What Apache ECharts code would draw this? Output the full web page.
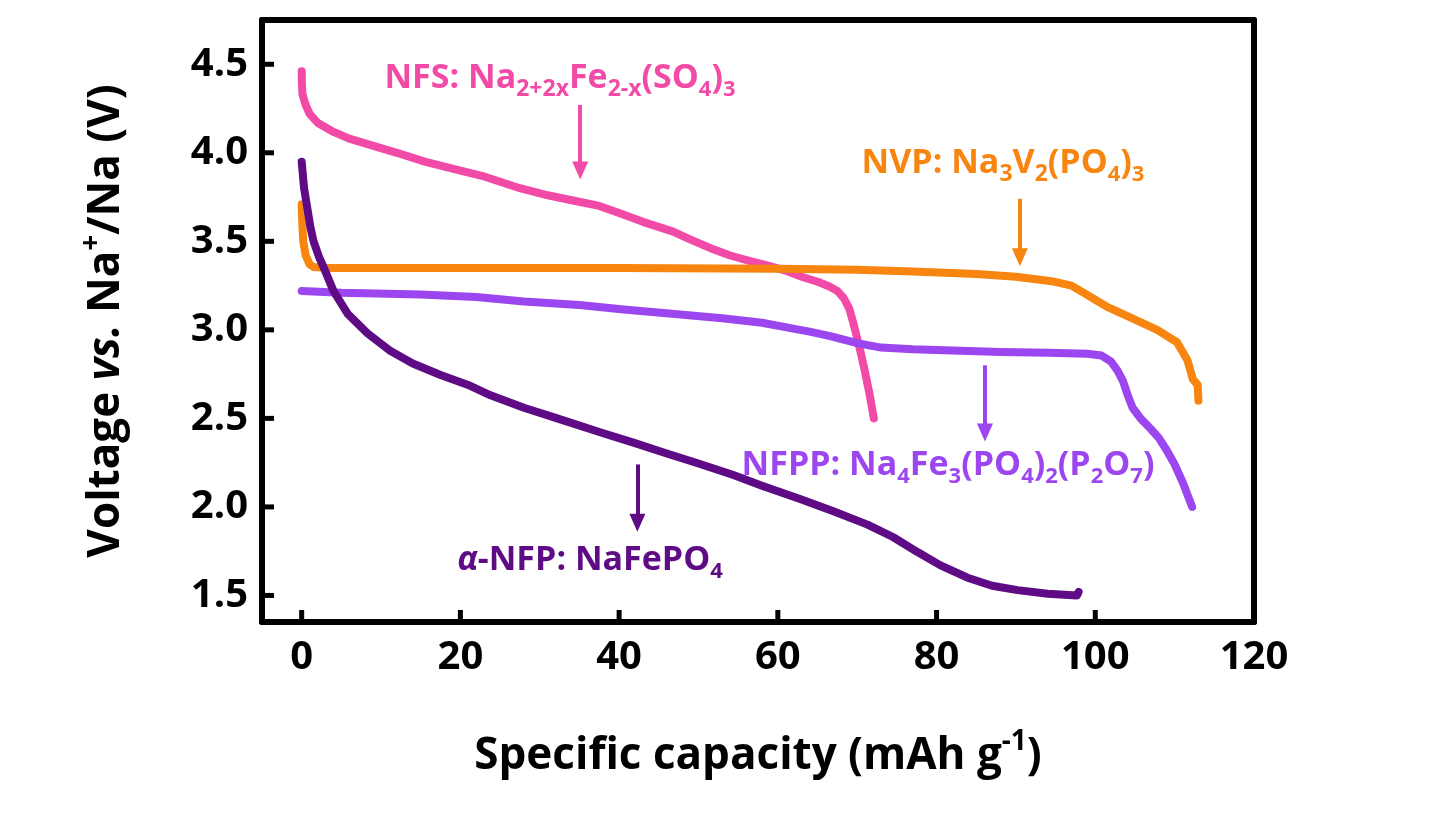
<!DOCTYPE html>
<html>
<head>
<meta charset="utf-8">
<script src="https://cdn.jsdelivr.net/npm/echarts@6/dist/echarts.min.js"></script>
<style>
  html, body { margin: 0; padding: 0; background: #fff; }
  #chart { width: 1456px; height: 840px; }
</style>
</head>
<body>
<div id="chart"></div>
<script>
// capacity (mAh/g), voltage (V) pairs
var nfsData = [[0,4.46],[0.02,4.40],[0.1,4.33],[0.5,4.27],[1.0,4.22],[2,4.17],[3.9,4.12],[6,4.08],[8.2,4.05],[12,4.0],[15.5,3.95],[19,3.91],[22.7,3.87],[27.5,3.80],[31,3.76],[34.8,3.725],[37.5,3.70],[40,3.66],[43,3.61],[46.8,3.555],[49,3.51],[51.6,3.46],[54,3.42],[56.4,3.39],[59,3.36],[61.3,3.33],[63,3.30],[65.1,3.27],[66.5,3.245],[67.5,3.22],[68.3,3.18],[69.0,3.12],[69.5,3.04],[69.9,2.97],[70.4,2.88],[70.9,2.78],[71.5,2.65],[72.1,2.50]];
var nvpData = [[0,3.71],[0.05,3.63],[0.2,3.50],[0.5,3.42],[1.0,3.37],[1.5,3.355],[3,3.35],[20,3.35],[40,3.35],[60,3.345],[70,3.34],[77,3.33],[85,3.315],[90,3.30],[94.5,3.275],[97,3.25],[98.5,3.21],[100,3.17],[101.5,3.13],[104.4,3.07],[107.8,3.0],[110.3,2.93],[111.6,2.83],[112.3,2.72],[112.9,2.69],[113,2.60]];
var nfppData = [[0,3.22],[5,3.21],[15,3.20],[22,3.185],[28,3.16],[35,3.14],[40.6,3.115],[47,3.09],[53,3.065],[58,3.04],[61.6,3.01],[64,2.99],[66.6,2.965],[70,2.925],[73,2.90],[77,2.89],[81,2.885],[88,2.875],[94,2.87],[99,2.865],[100.8,2.855],[102,2.82],[102.8,2.77],[103.5,2.71],[104.1,2.63],[104.7,2.56],[105.7,2.50],[107,2.44],[108,2.39],[109,2.32],[110,2.24],[111.1,2.13],[112.2,2.0]];
var nfpData = [[0,3.95],[0.1,3.90],[0.3,3.80],[0.7,3.69],[1.1,3.58],[1.5,3.50],[2.2,3.41],[2.8,3.35],[4,3.22],[5.8,3.09],[8.3,2.98],[11.2,2.88],[14,2.81],[17.5,2.745],[20.9,2.69],[23.8,2.63],[28,2.56],[32.2,2.50],[37.7,2.42],[42,2.36],[46.1,2.30],[50,2.245],[54.4,2.18],[58,2.12],[62.8,2.045],[67,1.975],[71.3,1.90],[74.5,1.83],[77.6,1.745],[80.5,1.67],[83.9,1.60],[87,1.555],[90.2,1.53],[94,1.51],[97.7,1.50],[97.9,1.52]];

var xTicks = [0, 20, 40, 60, 80, 100, 120];
var yTicks = [1.5, 2.0, 2.5, 3.0, 3.5, 4.0, 4.5];

// arrows: [x, yStart, yEnd]
var nfsArrow = [35.1, 4.27, 3.90];
var nvpArrow = [90.5, 3.74, 3.41];
var nfppArrow = [86.1, 2.80, 2.42];
var nfpArrow = [42.3, 2.24, 1.91];

var X_MIN = -5, X_MAX = 120, Y_MIN = 1.35, Y_MAX = 4.75;

var PINK = '#f24ba7', ORANGE = '#f7850f', PURPLE = '#9c46f0', DARK = '#5f0b86';
var FONT = 'Open Sans';

function arrow(a, color) {
  return {
    silent: true,
    symbol: ['none', 'triangle'],
    symbolSize: [16, 18],
    label: { show: false },
    itemStyle: { color: color },
    lineStyle: { type: 'solid', width: 4, color: color },
    data: [[{ coord: [a[0], a[1]] }, { coord: [a[0], a[2]] }]]
  };
}

function curve(name, data, color, arr) {
  return {
    name: name,
    type: 'line',
    data: data,
    showSymbol: false,
    smooth: false,
    color: color,
    lineStyle: { width: 8, color: color, cap: 'round', join: 'round' },
    markLine: arrow(arr, color)
  };
}

function subRich(color) {
  return {
    m: { fontFamily: FONT, fontWeight: 'bold', fontSize: 34, fill: color, lineHeight: 46 },
    s: { fontFamily: FONT, fontWeight: 'bold', fontSize: 23, fill: color, verticalAlign: 'bottom', lineHeight: 24 },
    u: { fontFamily: FONT, fontWeight: 'bold', fontSize: 22, fill: color, verticalAlign: 'bottom', lineHeight: 30 },
    i: { fontFamily: FONT, fontWeight: 'bold', fontStyle: 'italic', fontSize: 34, fill: color, lineHeight: 46 }
  };
}

function label(x, y, text, color) {
  return {
    type: 'text', x: x, y: y, silent: true, z: 100,
    style: { text: text, rich: subRich(color), fill: color, align: 'center', verticalAlign: 'middle',
      fontFamily: FONT, fontWeight: 'bold', fontSize: 34 }
  };
}

function frameLine() {
  return { show: true, onZero: false, lineStyle: { color: '#000', width: 6 } };
}

var chart = echarts.init(document.getElementById('chart'), null, { renderer: 'canvas' });

var option = {
  backgroundColor: '#fff',
  animation: false,
  grid: { left: 262, right: 202, top: 20, bottom: 218 },
  xAxis: [{
    type: 'value', min: X_MIN, max: X_MAX, position: 'bottom',
    splitLine: { show: false },
    axisLine: frameLine(),
    axisTick: { show: false },
    axisLabel: { customValues: xTicks, color: '#000', fontFamily: FONT, fontWeight: 'bold', fontSize: 40, margin: 16 },
    name: '{b|Specific capacity (mAh g}{sup|-1}{b|)}',
    nameLocation: 'middle', nameGap: 106,
    nameTextStyle: {
      rich: {
        b: { fontFamily: FONT, fontWeight: 'bold', fontSize: 44, color: '#000', lineHeight: 56 },
        sup: { fontFamily: FONT, fontWeight: 'bold', fontSize: 28, color: '#000', verticalAlign: 'top', lineHeight: 32 }
      }
    }
  }, {
    type: 'value', min: X_MIN, max: X_MAX, position: 'top',
    splitLine: { show: false }, axisLine: frameLine(), axisTick: { show: false }, axisLabel: { show: false }
  }],
  yAxis: [{
    type: 'value', min: Y_MIN, max: Y_MAX, position: 'left',
    splitLine: { show: false },
    axisLine: frameLine(),
    axisTick: { show: false },
    axisLabel: { customValues: yTicks, color: '#000', fontFamily: FONT, fontWeight: 'bold', fontSize: 40, margin: 14,
      formatter: function (v) { return v.toFixed(1); } },
    name: '{b|Voltage }{i|vs.}{b| Na}{sup|+}{b|/Na (V)}',
    nameLocation: 'middle', nameGap: 128, nameRotate: 90,
    nameTextStyle: {
      rich: {
        b: { fontFamily: FONT, fontWeight: 'bold', fontSize: 44, color: '#000', lineHeight: 56 },
        i: { fontFamily: FONT, fontWeight: 'bold', fontStyle: 'italic', fontSize: 44, color: '#000', lineHeight: 56 },
        sup: { fontFamily: FONT, fontWeight: 'bold', fontSize: 28, color: '#000', verticalAlign: 'top', lineHeight: 32 }
      }
    }
  }, {
    type: 'value', min: Y_MIN, max: Y_MAX, position: 'right',
    splitLine: { show: false }, axisLine: frameLine(), axisTick: { show: false }, axisLabel: { show: false }
  }],
  series: [
    curve('NFS', nfsData, PINK, nfsArrow),
    curve('NVP', nvpData, ORANGE, nvpArrow),
    curve('NFPP', nfppData, PURPLE, nfppArrow),
    curve('α-NFP', nfpData, DARK, nfpArrow)
  ]
};

chart.setOption(option);

// inward tick marks, placed through the chart's own axis scales
var TICK_LEN = 12;
var graphics = [
  label(560, 78, '{m|NFS: Na}{s|2+2x}{m|Fe}{s|2-x}{m|(SO}{u|4}{m|)}{u|3}', PINK),
  label(1003, 163, '{m|NVP: Na}{s|3}{m|V}{s|2}{m|(PO}{u|4}{m|)}{u|3}', ORANGE),
  label(948, 465, '{m|NFPP: Na}{u|4}{m|Fe}{u|3}{m|(PO}{u|4}{m|)}{u|2}{m|(P}{u|2}{m|O}{u|7}{m|)}', PURPLE),
  label(590, 560, '{i|α}{m|-NFP: NaFePO}{u|4}', DARK)
];
xTicks.forEach(function (v) {
  if (v <= X_MIN || v >= X_MAX) return;
  var p = chart.convertToPixel({ gridIndex: 0 }, [v, Y_MIN]);
  graphics.push({ type: 'line', z: 100, silent: true,
    shape: { x1: p[0], y1: p[1], x2: p[0], y2: p[1] - TICK_LEN },
    style: { stroke: '#000', lineWidth: 5 } });
});
yTicks.forEach(function (v) {
  var p = chart.convertToPixel({ gridIndex: 0 }, [X_MIN, v]);
  graphics.push({ type: 'line', z: 100, silent: true,
    shape: { x1: p[0], y1: p[1], x2: p[0] + TICK_LEN, y2: p[1] },
    style: { stroke: '#000', lineWidth: 5 } });
});
chart.setOption({ graphic: graphics });
</script>
</body>
</html>
